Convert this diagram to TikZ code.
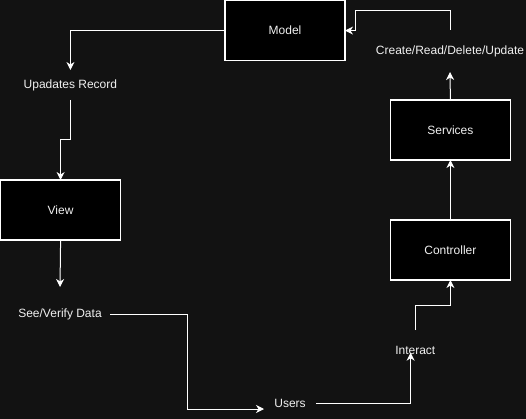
\documentclass[tikz,border=0pt]{standalone}
\usepackage{fontspec}
\setmainfont{Liberation Sans}
\usetikzlibrary{arrows.meta}
\definecolor{bg}{RGB}{18,18,18}
\definecolor{fg}{RGB}{240,240,240}
\begin{document}
\begin{tikzpicture}[x=1pt,y=-1pt,
  box/.style={draw=white,fill=black,line width=1.2pt,minimum width=120pt,minimum height=60pt,inner sep=0pt,outer sep=0pt,text=fg,font=\fontsize{12}{14}\selectfont},
  lbl/.style={text=fg,font=\fontsize{12}{14}\selectfont,inner sep=0pt,outer sep=0pt},
  conn/.style={draw=white,line width=1pt,-{Stealth[length=8pt,width=8pt,inset=2.5pt]}}
]
\fill[bg] (0,0) rectangle (526,419);
\useasboundingbox (0,0) rectangle (526,419);

\node[box] (model) at (285,30.6) {Model};
\node[box] (services) at (450.4,130) {Services};
\node[box] (controller) at (450.4,250) {Controller};
\node[box] (view) at (60.6,210) {View};

\node[lbl,minimum height=42pt] (create) at (450,51) {Create/Read/Delete/Update};
\node[lbl,minimum height=30pt] (upd) at (70.4,85) {Upadates Record};
\node[lbl,minimum height=54pt,minimum width=100pt] (see) at (60,314) {See/Verify Data};
\node[lbl,minimum height=20pt,minimum width=52pt] (users) at (290,403) {Users};
\node[lbl,minimum height=40pt] (interact) at (415.3,350) {Interact};

\coordinate (j1) at (355.7,10.7);
\coordinate (j2) at (60.6,140);
\coordinate (j3) at (187.5,409);
\coordinate (j5) at (415.3,305);

\draw[conn] (services.north) -- (create.south);
\draw[conn] (create.north) |- (j1) |- (model.east);
\draw[conn] (model.west) -| (upd.north);
\draw[conn] (upd.south) |- (j2) -- (view.north);
\draw[conn] (view.south) -- (see.north);
\draw[conn] (see.east) -| (j3) -- (users.west |- j3);
\draw[conn] (users.east) -| ([xshift=-4.7pt,yshift=-2.7pt]interact.center);
\draw[conn] (interact.north) -- (j5) -| (controller.south);
\draw[conn] (controller.north) -- (services.south);
\end{tikzpicture}
\end{document}
